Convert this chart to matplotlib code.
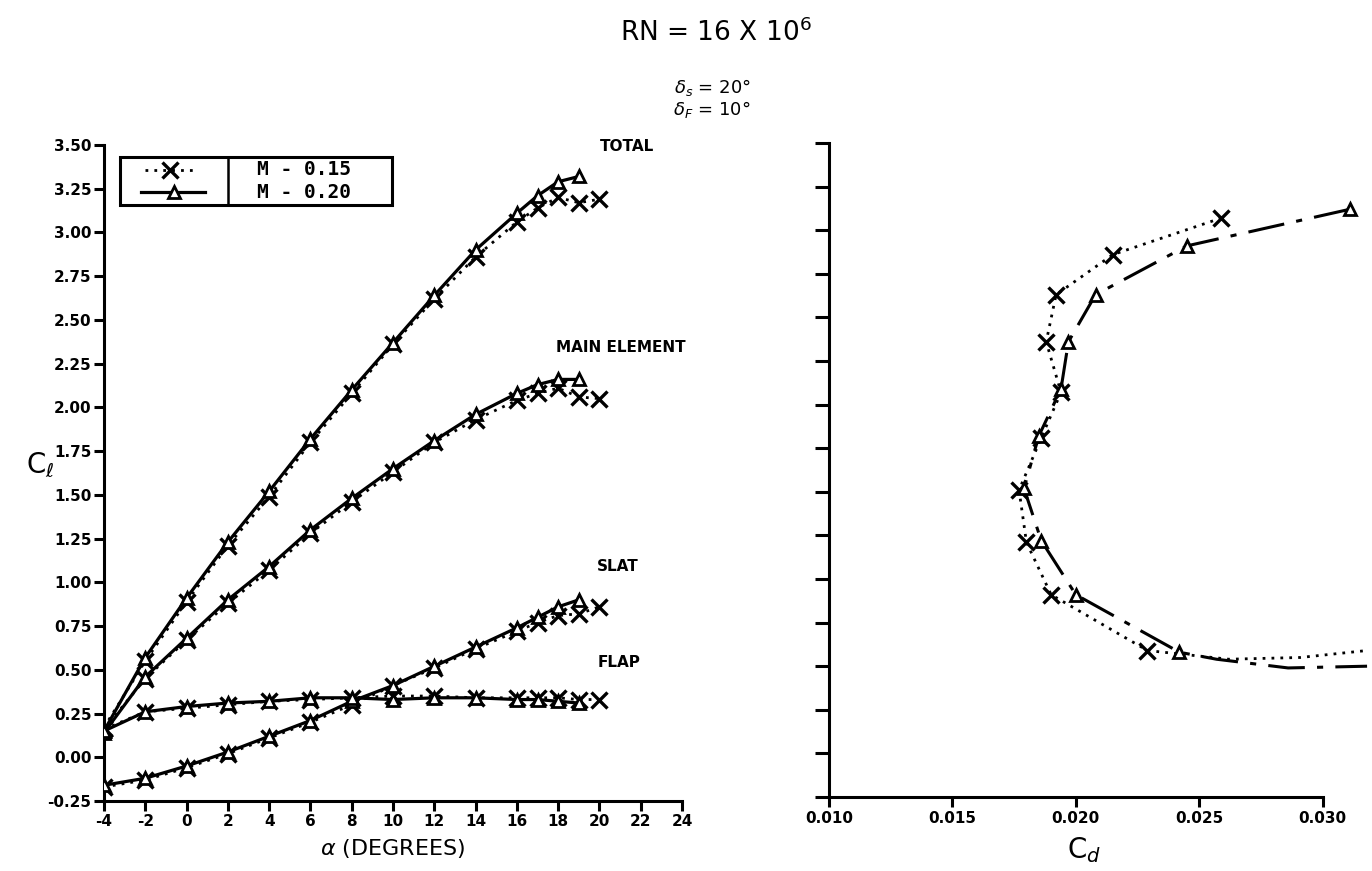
import numpy as np
import matplotlib
matplotlib.use('Agg')
import matplotlib.pyplot as plt
from matplotlib.lines import Line2D
from matplotlib.patches import Rectangle

# angulos de ataque medidos
alfa_m15 = [-4, -2, 0, 2, 4, 6, 8, 10, 12, 14, 16, 17, 18, 19, 20]
alfa_m20 = [-4, -2, 0, 2, 4, 6, 8, 10, 12, 14, 16, 17, 18, 19]

# Cl por elemento, M = 0.15
cl_total_m15 = [0.17, 0.55, 0.89, 1.21, 1.49, 1.80, 2.08, 2.36, 2.62, 2.86, 3.06, 3.14, 3.20, 3.17, 3.19]
cl_main_m15 = [0.16, 0.45, 0.67, 0.88, 1.07, 1.28, 1.46, 1.63, 1.80, 1.93, 2.04, 2.08, 2.11, 2.06, 2.05]
cl_slat_m15 = [-0.17, -0.13, -0.06, 0.02, 0.11, 0.20, 0.30, 0.41, 0.51, 0.62, 0.72, 0.77, 0.81, 0.82, 0.86]
cl_flap_m15 = [0.16, 0.26, 0.28, 0.30, 0.32, 0.33, 0.34, 0.35, 0.35, 0.34, 0.34, 0.34, 0.34, 0.33, 0.33]

# Cl por elemento, M = 0.20
cl_total_m20 = [0.15, 0.57, 0.91, 1.23, 1.52, 1.82, 2.10, 2.37, 2.64, 2.90, 3.11, 3.21, 3.29, 3.32]
cl_main_m20 = [0.14, 0.46, 0.68, 0.90, 1.09, 1.30, 1.48, 1.65, 1.81, 1.96, 2.08, 2.13, 2.16, 2.16]
cl_slat_m20 = [-0.16, -0.12, -0.05, 0.03, 0.12, 0.21, 0.32, 0.41, 0.52, 0.63, 0.74, 0.80, 0.86, 0.90]
cl_flap_m20 = [0.15, 0.26, 0.29, 0.31, 0.32, 0.34, 0.34, 0.33, 0.34, 0.34, 0.33, 0.33, 0.32, 0.31]

# polar Cl - Cd
cd_polar_m15 = [0.0259, 0.0215, 0.0192, 0.0188, 0.0194, 0.0186, 0.0177, 0.0180, 0.0190, 0.0229]
cl_polar_m15 = [3.07, 2.86, 2.63, 2.36, 2.07, 1.81, 1.51, 1.21, 0.91, 0.59]
cd_polar_m20 = [0.0311, 0.0245, 0.0208, 0.0197, 0.0194, 0.0185, 0.0179, 0.0186, 0.0200, 0.0242]
cl_polar_m20 = [3.12, 2.91, 2.63, 2.36, 2.09, 1.82, 1.52, 1.22, 0.91, 0.58]

# continuacion de las curvas fuera de la escala
cd_cola_m15 = [0.0262, 0.0291, 0.0318]
cl_cola_m15 = [0.54, 0.55, 0.59]
cd_cola_m20 = [0.0257, 0.0286, 0.0318]
cl_cola_m20 = [0.54, 0.49, 0.50]

yticks = np.arange(-0.25, 3.51, 0.25)
xticks_alfa = np.arange(-4, 25, 2)
xticks_cd = [0.010, 0.015, 0.020, 0.025, 0.030]

punteada = (0, (1, 2.2))
rayapunto = (0, (12, 4, 2, 4))
est_x = dict(color='black', marker='x', markersize=11, markeredgewidth=2.4)
est_tri = dict(color='black', marker='^', markersize=9, markeredgewidth=2.0,
               markerfacecolor='white')

fig = plt.figure(figsize=(13.72, 8.71), dpi=100)

#%%
# Cl vs alfa
ax = fig.add_axes([104/1372, 1 - 801/871, 578/1372, 656/871])
for cl in [cl_total_m15, cl_main_m15, cl_slat_m15, cl_flap_m15]:
    ax.plot(alfa_m15, cl, linestyle=punteada, linewidth=2.0, zorder=3, **est_x)
for cl in [cl_total_m20, cl_main_m20, cl_slat_m20, cl_flap_m20]:
    ax.plot(alfa_m20, cl, linestyle='-', linewidth=2.3, zorder=4, **est_tri)

ax.set_xlim(-4, 24)
ax.set_ylim(-0.25, 3.5)
ax.set_xticks(xticks_alfa)
ax.set_yticks(yticks)
ax.set_xticklabels([str(v) for v in xticks_alfa])
ax.set_yticklabels(['%.2f' % v for v in yticks])
for s in ['top', 'right']:
    ax.spines[s].set_visible(False)
for s in ['left', 'bottom']:
    ax.spines[s].set_linewidth(2.2)
ax.tick_params(direction='out', length=7, width=2.2, labelsize=11, pad=2)
for lab in ax.get_xticklabels() + ax.get_yticklabels():
    lab.set_fontweight('bold')

ax.text(20.0, 3.49, 'TOTAL', fontsize=11, fontweight='bold', va='center')
ax.text(17.9, 2.34, 'MAIN ELEMENT', fontsize=11, fontweight='bold', va='center')
ax.text(19.9, 1.09, 'SLAT', fontsize=11, fontweight='bold', va='center')
ax.text(19.9, 0.54, 'FLAP', fontsize=11, fontweight='bold', va='center')

ax.set_xlabel(r'$\alpha$ (DEGREES)', fontsize=16, labelpad=6)

# leyenda en forma de tabla
tr = ax.transAxes
ax.add_patch(Rectangle((0.028, 0.9085), 0.47, 0.073, transform=tr, fill=False,
                       linewidth=2.2, edgecolor='black', clip_on=False, zorder=6))
ax.add_line(Line2D([0.2145, 0.2145], [0.9085, 0.9815], transform=tr, color='black',
                   linewidth=1.8, clip_on=False, zorder=6))
ax.add_line(Line2D([0.071, 0.161], [0.962, 0.962], transform=tr, linestyle=punteada,
                   linewidth=2.0, color='black', clip_on=False))
ax.add_line(Line2D([0.114], [0.962], transform=tr, linestyle='none', clip_on=False, **est_x))
ax.add_line(Line2D([0.064, 0.175], [0.928, 0.928], transform=tr, linestyle='-',
                   linewidth=2.3, color='black', clip_on=False))
ax.add_line(Line2D([0.121], [0.928], transform=tr, linestyle='none', clip_on=False, **est_tri))
ax.text(0.265, 0.962, 'M - 0.15', transform=tr, fontsize=14, fontweight='bold',
        family='DejaVu Sans Mono', va='center')
ax.text(0.265, 0.928, 'M - 0.20', transform=tr, fontsize=14, fontweight='bold',
        family='DejaVu Sans Mono', va='center')

#%%
# polar
ax2 = fig.add_axes([829/1372, 1 - 797/871, 543/1372, 654/871])
ax2.plot(cd_polar_m15 + cd_cola_m15, cl_polar_m15 + cl_cola_m15, linestyle=punteada,
         linewidth=2.0, color='black')
ax2.plot(cd_polar_m15, cl_polar_m15, linestyle='none', zorder=3, **est_x)
ax2.plot(cd_polar_m20 + cd_cola_m20, cl_polar_m20 + cl_cola_m20, linestyle=rayapunto,
         linewidth=2.2, color='black')
ax2.plot(cd_polar_m20, cl_polar_m20, linestyle='none', zorder=4, **est_tri)

ax2.set_xlim(0.010, 0.0320)
ax2.set_ylim(-0.25, 3.5)
ax2.set_xticks(xticks_cd)
ax2.set_xticklabels(['%.3f' % v for v in xticks_cd])
ax2.set_yticks(yticks)
ax2.set_yticklabels([])
for s in ['top', 'right']:
    ax2.spines[s].set_visible(False)
for s in ['left', 'bottom']:
    ax2.spines[s].set_linewidth(2.2)
ax2.spines['bottom'].set_bounds(0.010, 0.030)
ax2.tick_params(axis='y', direction='out', length=10, width=2.2)
ax2.tick_params(axis='x', direction='out', length=7, width=2.2, labelsize=11, pad=3)
for lab in ax2.get_xticklabels():
    lab.set_fontweight('bold')

#%%
# titulos
fig.text(716/1372, 1 - 33/871, r'RN = 16 X 10$^{6}$', fontsize=19, ha='center', va='center')
fig.text(712/1372, 1 - 88/871, r'$\delta_s$ = 20°', fontsize=13, ha='center', va='center')
fig.text(712/1372, 1 - 110/871, r'$\delta_F$ = 10°', fontsize=13, ha='center', va='center')
fig.text(40/1372, 1 - 465/871, r'$\mathregular{C}_{\ell}$', fontsize=20, ha='center', va='center')
fig.text(1084/1372, 1 - 850/871, r'$\mathregular{C}_{d}$', fontsize=20, ha='center', va='center')

plt.savefig('out.png', dpi=100)
